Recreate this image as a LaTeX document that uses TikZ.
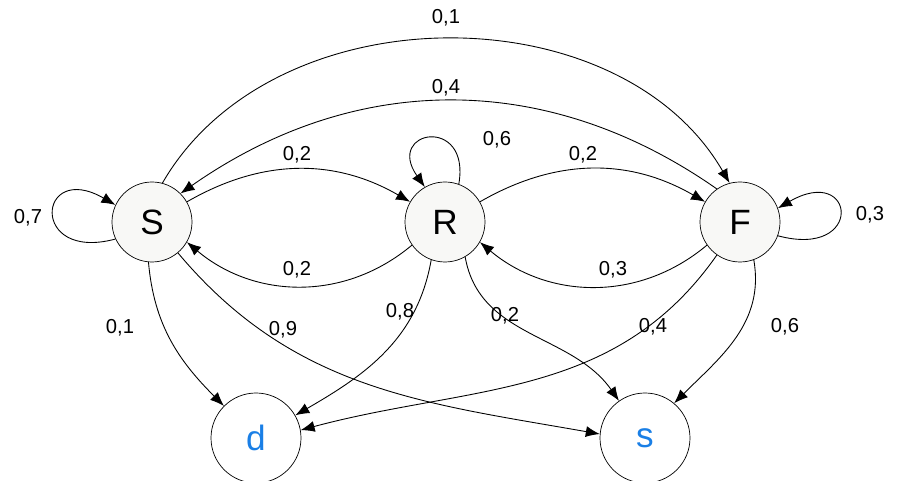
\documentclass[tikz,border=0pt]{standalone}
\usepackage{fontspec}
\setmainfont{Liberation Sans}
\usetikzlibrary{arrows.meta}
\definecolor{nfill}{HTML}{F8F8F6}
\definecolor{blu}{HTML}{1A7FE6}
\begin{document}
\begin{tikzpicture}
\useasboundingbox (0,0) rectangle (18.06,9.62);
\tikzset{
 st/.style={circle,draw,fill=nfill,minimum size=1.6cm,inner sep=0pt,font=\fontsize{20}{20}\selectfont},
 ab/.style={circle,draw,fill=white,minimum size=1.8cm,inner sep=0pt,text=blu,font=\fontsize{20}{20}\selectfont},
 lab/.style={font=\fontsize{11.5}{11.5}\selectfont},
 ar/.style={-{Latex[length=2.8mm,width=2.2mm]},line width=0.5pt}
}
\node[st] (S) at (3.04,5.18) {S};
\node[st] (R) at (8.9,5.18) {R};
\node[st] (F) at (14.8,5.18) {F};
\node[ab] (d) at (5.12,0.86) {d};
\node[ab] (s) at (12.9,0.86) {s};
\draw[ar] (S.75) to[out=60,in=120] (F.105);
\draw[ar] (F.125) to[out=145,in=35] (S.45);
\draw[ar] (S.30) to[out=30,in=150] (R.150);
\draw[ar] (R.215) to[out=-140,in=-40] (S.330);
\draw[ar] (R.30) to[out=30,in=150] (F.150);
\draw[ar] (F.215) to[out=-140,in=-40] (R.330);
\draw[ar] (R.70) .. controls +(80:1.4) and +(125:1.4) .. (R.120);
\draw[ar] (S.205) .. controls +(195:1.8) and +(150:1.8) .. (S.155);
\draw[ar] (F.340) .. controls +(-15:1.8) and +(30:1.8) .. (F.20);
\draw[ar] (S.265) to[out=-85,in=135] (d.135);
\draw[ar] (S.310) to[out=-50,in=170] (s.175);
\draw[ar] (R.250) to[out=-100,in=30] (d.30);
\draw[ar] (R.300) to[out=-80,in=125] (s.125);
\draw[ar] (F.235) to[out=-125,in=15] (d.10);
\draw[ar] (F.290) to[out=-80,in=45] (s.50);
\node[lab] (l1) at (8.92,9.26) {0,1};
\node[lab] (l2) at (8.92,7.86) {0,4};
\node[lab] (l3) at (5.94,6.52) {0,2};
\node[lab] (l4) at (5.94,4.22) {0,2};
\node[lab] (l5) at (11.66,6.52) {0,2};
\node[lab] (l6) at (12.26,4.22) {0,3};
\node[lab] (l7) at (9.94,6.82) {0,6};
\node[lab] (l8) at (0.56,5.26) {0,7};
\node[lab] (l9) at (17.4,5.32) {0,3};
\node[lab] (l10) at (2.4,3.06) {0,1};
\node[lab] (l11) at (5.66,3.02) {0,9};
\node[lab] (l12) at (8.0,3.38) {0,8};
\node[lab] (l13) at (10.1,3.3) {0,2};
\node[lab] (l14) at (13.06,3.08) {0,4};
\node[lab] (l15) at (15.7,3.08) {0,6};
\end{tikzpicture}
\end{document}
